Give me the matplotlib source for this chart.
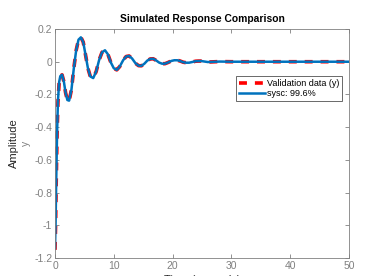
import matplotlib.pyplot as plt

t_val = [0, 0.1, 0.2, 0.35, 0.5, 0.7, 0.9, 1.2, 1.5, 1.8, 2.1, 2.4, 2.8, 3.2, 3.6, 4.0, 4.4,
         4.8, 5.2, 5.6, 6.0, 6.5, 7.0, 7.5, 8.0, 8.5, 9.0, 9.5, 10.0, 10.5, 11.0, 11.6, 12.1,
         12.6, 13.1, 13.7, 14.2, 14.7, 15.2, 15.7, 16.2, 16.7, 17.2, 17.7, 18.2, 18.7, 19.2,
         19.8, 20.3, 20.8, 21.3, 21.8, 22.3, 22.8, 23.3, 23.9, 24.4, 24.9, 26, 28, 30, 35, 40, 45, 50]
y_val = [-1.15, -1.0, -0.75, -0.45, -0.25, -0.13, -0.09, -0.08, -0.12, -0.19, -0.235, -0.24,
         -0.17, -0.04, 0.07, 0.135, 0.15, 0.12, 0.04, -0.04, -0.09, -0.10, -0.06, 0.01, 0.058,
         0.07, 0.045, -0.005, -0.04, -0.05, -0.03, 0.01, 0.032, 0.035, 0.02, -0.01, -0.024,
         -0.025, -0.012, 0.007, 0.017, 0.018, 0.008, -0.005, -0.012, -0.012, -0.005, 0.005,
         0.009, 0.009, 0.004, -0.003, -0.006, -0.006, -0.002, 0.003, 0.004, 0.004, -0.002,
         0.001, 0, 0, 0, 0, 0]
y_sim = [-1.14, -0.99, -0.74, -0.44, -0.24, -0.125, -0.088, -0.08, -0.12, -0.19, -0.234, -0.238,
         -0.17, -0.04, 0.07, 0.135, 0.149, 0.12, 0.04, -0.04, -0.09, -0.10, -0.06, 0.01, 0.058,
         0.07, 0.045, -0.005, -0.04, -0.05, -0.03, 0.01, 0.032, 0.035, 0.02, -0.01, -0.024,
         -0.025, -0.012, 0.007, 0.017, 0.018, 0.008, -0.005, -0.012, -0.012, -0.005, 0.005,
         0.009, 0.009, 0.004, -0.003, -0.006, -0.006, -0.002, 0.003, 0.004, 0.004, -0.002,
         0.001, 0, 0, 0, 0, 0]
labels = ['Validation data (y)', 'sysc: 99.6%']

plt.rcParams['font.family'] = ['Liberation Sans', 'DejaVu Sans']
grey = '#808080'

fig = plt.figure(figsize=(3.86, 2.76), dpi=100)
ax = fig.add_axes([0.1425, 0.0652, 0.7617, 0.8297])

ax.plot(t_val, y_val, color='red', linestyle=(0, (2.2, 2.2)), linewidth=2.6, label=labels[0])
ax.plot(t_val, y_sim, color='#0072BD', linewidth=1.8, label=labels[1])

ax.set_xlim(0, 50)
ax.set_ylim(-1.2, 0.2)
ax.set_xticks([0, 10, 20, 30, 40, 50])
ax.set_yticks([-1.2, -1, -0.8, -0.6, -0.4, -0.2, 0, 0.2])
ax.set_yticklabels(['-1.2', '-1', '-0.8', '-0.6', '-0.4', '-0.2', '0', '0.2'])
ax.tick_params(direction='in', length=3, width=0.6, colors=grey, labelsize=7.5,
               top=True, right=True, pad=2)
for s in ax.spines.values():
    s.set_color(grey)
    s.set_linewidth(0.6)

ax.set_title('Simulated Response Comparison', fontsize=7.4, fontweight='bold', pad=5)
ax.set_xlabel('Time (seconds)', fontsize=8, color='#262626', labelpad=3)
ax.set_ylabel('y', fontsize=7.5, color=grey, labelpad=2)
fig.text(0.037, 0.48, 'Amplitude', rotation=90, fontsize=8, color='#262626',
         ha='center', va='center')

leg = ax.legend(loc='upper left', bbox_to_anchor=(0.616, 0.795), fontsize=6.5,
                frameon=True, fancybox=False, handlelength=2.9, handletextpad=0.25,
                borderpad=0.3, labelspacing=0.15, borderaxespad=0)
leg.get_frame().set_edgecolor('#262626')
leg.get_frame().set_linewidth(0.6)

fig.savefig('out.png', dpi=100)
